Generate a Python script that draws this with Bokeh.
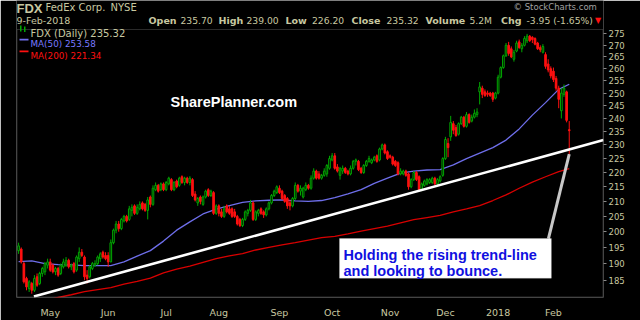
from bokeh.plotting import figure
from bokeh.models import Range1d, FixedTicker, Label, BoxAnnotation, ColumnDataSource
from bokeh.embed import file_html
from bokeh.resources import INLINE

# ---------------- data ----------------
opens = [194, 194.5, 190, 185.5, 182.5, 184, 182, 186, 184, 187,
         187.5, 189.5, 190.5, 189.5, 187.5, 188.5, 187, 189, 189.5, 191,
         189, 190, 188, 191.5, 193.5, 192, 186.5, 186, 188.5, 189.5,
         190, 191.5, 193.5, 192.5, 192.5, 190.5, 196.5, 200.5, 202.5, 201,
         203.5, 205, 204, 207, 208.5, 206, 207.5, 209.5, 209, 207,
         211.5, 209, 214, 215.5, 214, 216, 214, 216, 217.5, 214,
         217, 215.5, 218.5, 216.5, 218, 216.5, 217.5, 212.5, 209.5, 211.5,
         209, 211.5, 214, 212, 213, 206, 208.5, 206.5, 205, 208.5,
         207.5, 207.5, 206.5, 205, 204, 202, 204, 206, 207, 209.5,
         204, 206, 207.5, 206.5, 205.5, 207.5, 209.5, 212, 213, 214.5,
         213.5, 212, 211, 209.5, 208.5, 211, 215.5, 213.5, 211.5, 214,
         215.5, 214.5, 218, 220.5, 219.5, 218, 219, 219.5, 221.5, 224.5,
         226, 222, 219, 220.5, 221.5, 220.5, 219.5, 221.5, 224, 224,
         221.5, 220, 222.5, 224, 223.5, 224.5, 226, 224.5, 228.5, 230,
         227.5, 226, 225.5, 224, 223.5, 219.5, 219.5, 220.5, 219.5, 215,
         217.5, 220, 218.5, 214, 215.5, 216, 216.5, 216.5, 218, 216,
         217, 219, 225, 230.5, 233, 238, 236.5, 234, 238, 240.5,
         237, 241.5, 239, 240.5, 241.5, 250.5, 252, 250.5, 250, 250,
         250, 248, 250, 256.5, 260.5, 265.5, 270, 268.5, 264, 267.5,
         271.5, 268.5, 270, 272, 274, 273.5, 273, 271, 269, 267,
         266, 262, 260, 259, 256, 252, 243, 249.5, 250.5, 235.70]
highs = [196.5, 195, 190.5, 186, 185, 184.5, 186.5, 187, 187.5, 189,
         190.5, 191.5, 191.5, 190, 189, 189, 190, 191.5, 192, 191.5,
         190, 190.5, 192.5, 195, 194.5, 192.5, 188, 189.5, 190.5, 191,
         192.5, 193.5, 194, 193.5, 193.5, 197.5, 201, 203.5, 203.5, 204.5,
         205.5, 205.5, 208.5, 209, 209, 209, 210, 210, 209.5, 211.5,
         212, 215.5, 216.5, 216, 216.5, 216.5, 217, 218.5, 218, 217,
         217.5, 218.5, 219, 218.5, 218.5, 218.7, 218, 213.5, 211.5, 212,
         212, 214, 214.5, 214, 213.5, 209, 209, 207.5, 208.5, 209,
         208.5, 208, 207.5, 205.5, 204.5, 204.5, 207, 207.5, 210.5, 210,
         207, 207.5, 208, 207, 208, 210, 212.5, 214, 215.5, 215.5,
         214, 212.5, 211.5, 210.5, 211.5, 216.5, 216, 215.5, 215, 216.5,
         216, 219, 221.5, 221, 220.5, 219.5, 221.5, 223, 226, 227,
         227, 223, 222, 222.5, 222, 221, 222.5, 224.5, 225, 224.5,
         222, 223, 224.5, 226, 225, 226, 226.5, 229, 230.5, 230.5,
         228, 226.5, 226, 224.5, 224, 221.5, 221, 221, 220, 218,
         220.5, 220.5, 219, 216.5, 217.5, 218, 218, 218.5, 218.5, 218,
         219, 225.5, 233, 232.5, 241, 239, 237.5, 238.5, 241, 241,
         242.5, 242, 241.5, 243.5, 244, 254.5, 253, 251.5, 251, 250.5,
         250.5, 250.5, 257.5, 261, 266, 271, 271.5, 269.5, 268, 272,
         272.5, 271, 274, 275, 274.5, 274, 273.5, 271.5, 270, 270.5,
         267, 264, 261, 260.5, 257, 253, 252, 253.5, 251, 239.00]
lows = [193, 190, 184, 182, 181.5, 181, 181.5, 183, 183.5, 186,
        186.5, 188.5, 187.5, 187, 186.5, 186, 186.5, 188.5, 189, 188.5,
        188, 187, 187.5, 190.5, 192, 185, 184, 185.5, 188, 189,
        189.5, 190.5, 191.5, 191, 189, 190.5, 196, 199.5, 200, 200.5,
        203, 203, 203.5, 205, 205.5, 205.5, 207, 207, 206.5, 204,
        208, 208.5, 213.5, 213, 213.5, 213.5, 213.5, 215.5, 213.5, 213.5,
        214.5, 215, 216, 215.5, 216, 215.5, 211.5, 210, 208.5, 209,
        208.5, 211, 211.5, 211.5, 205.5, 205.5, 205, 204.5, 204.5, 206,
        205.5, 204.5, 204.5, 202, 201.5, 201.5, 203.5, 205, 206.5, 203.5,
        203.5, 205, 205.5, 204.5, 205, 207, 209, 211.5, 212.5, 212.5,
        210.5, 209.5, 207.5, 207, 208, 210.5, 213, 212, 211, 213.5,
        214, 214, 217.5, 217.5, 217.5, 217.5, 218.5, 218.5, 221, 224,
        221, 220, 217.5, 219.5, 219.5, 219, 219, 221, 222.5, 220.5,
        219.5, 219.5, 222, 223.5, 223, 224, 223.5, 224, 228, 226.5,
        224.5, 225, 222.5, 222, 219, 219, 219, 218.5, 214, 214.5,
        217, 217, 213.5, 213.5, 215, 215.5, 216, 216, 215.5, 215.5,
        216.5, 218.5, 224.5, 225.5, 231.5, 234, 233, 233.5, 237.5, 236.5,
        236.5, 238, 238.5, 240, 240.5, 245.5, 248, 248.5, 248.5, 248.5,
        246.5, 247.5, 249.5, 256, 260, 265, 265.5, 264.5, 263, 267,
        268.5, 267, 269.5, 271, 271.5, 271, 270, 268, 267, 266.5,
        260, 258.5, 256, 254.5, 251, 244, 240, 248.5, 238.5, 226.20]
closes = [195.5, 190.5, 184.5, 183, 184.5, 182, 185.5, 183.5, 187, 188.5,
          190, 190.5, 188, 187.5, 188.5, 186.5, 189.5, 190.5, 191, 189,
          189.5, 187.5, 192, 193.5, 192.5, 186, 185.5, 189, 190, 190,
          192, 193, 192, 191.5, 190.5, 196.5, 200.5, 202.5, 201, 204,
          205, 203.5, 207.5, 208, 206, 208, 209, 207.5, 207, 210.5,
          209, 214.5, 215.5, 213.5, 216, 214, 216.5, 218, 214, 216.5,
          215, 218, 216.5, 218, 216.5, 218, 212, 210.5, 211, 210,
          211.5, 213.5, 212, 213.5, 206, 208.5, 206, 205, 207.5, 206.5,
          206, 205, 205, 202.5, 202, 204, 206.5, 207, 209.5, 204,
          206.5, 207, 206, 205.5, 207.5, 209.5, 212, 213.5, 215, 213,
          211, 210, 208.5, 208.5, 211, 215.5, 213.5, 214.5, 214.5, 215.5,
          214.5, 218, 220.5, 218, 218, 219, 220.5, 222.5, 225, 226,
          221.5, 220.5, 221.5, 221.5, 220, 219.5, 221.5, 224, 224.5, 221,
          220, 222.5, 224, 225, 224.5, 225.5, 224, 228.5, 230, 227,
          225, 225.5, 223, 222.5, 219.5, 220.5, 220.5, 219, 215, 217.5,
          220, 217.5, 214, 216, 217, 217.5, 217.5, 218, 216, 217.5,
          218.5, 225, 232, 229, 238.5, 235.5, 233.5, 238, 240.5, 237,
          241.5, 238.5, 240.5, 242, 242.5, 252.5, 249.5, 249, 249.5, 249,
          247.5, 250, 256.5, 260.5, 265.5, 270, 266.5, 265, 267, 271,
          269, 270, 273, 274, 272, 272.5, 270.5, 268.5, 268, 269.5,
          261, 259.5, 257, 255.5, 252, 247.5, 250, 252, 239.27, 235.32]
day_index = list(range(len(closes)))

ma_days = [0, 5, 10, 15, 20, 25, 30, 35, 40, 45, 50, 55, 60, 65, 70, 75, 80,
           85, 90, 95, 100, 105, 110, 115, 120, 125, 130, 135, 140, 145, 150,
           155, 160, 165, 170, 175, 180, 185, 190, 195, 200, 205, 209]
ma50 = [190.6, 190.8, 190.0, 189.7, 189.6, 189.4, 189.4, 189.4, 190.5, 192.3,
        194.0, 197.0, 200.5, 203.2, 205.8, 207.4, 208.6, 209.7, 210.2, 210.4,
        210.5, 210.2, 210.0, 210.3, 211.3, 212.6, 214.0, 216.2, 218.0, 219.8,
        220.5, 220.9, 221.0, 222.7, 225.0, 227.0, 229.0, 231.8, 236.0, 241.3,
        246.2, 251.5, 253.58]
ma200_days = [10, 15, 20, 25, 30, 35, 40, 45, 50, 55, 60, 65, 70, 75, 80, 85,
              90, 95, 100, 105, 110, 115, 120, 125, 130, 135, 140, 145, 150,
              155, 160, 165, 170, 175, 180, 185, 190, 195, 200, 205, 209]
ma200 = [179.0, 179.9, 180.7, 181.6, 182.2, 182.8, 183.8, 184.6, 185.6, 187.2,
         188.3, 189.2, 190.4, 191.5, 192.4, 193.1, 194.2, 195.0, 195.8, 196.5,
         197.3, 198.1, 198.5, 199.3, 200.2, 201.0, 201.8, 202.9, 203.9, 204.6,
         205.3, 206.5, 207.5, 208.6, 210.3, 212.2, 214.5, 216.6, 218.5, 220.3,
         221.34]

month_tick_days = [12, 34, 56, 76, 99, 119, 141, 162, 182, 203]
month_labels = ["May", "Jun", "Jul", "Aug", "Sep", "Oct", "Nov", "Dec", "2018", "Feb"]
price_ticks = [185, 190, 195, 200, 205, 210, 215, 220, 225, 230, 235, 240,
               245, 250, 255, 260, 265, 270, 275]

trend_days = [5.8, 222.0]
trend_prices = [180.2, 231.8]
pointer_days = [201.1, 209.0]
pointer_prices = [197.8, 226.6]

# ---------------- styling ----------------
KHAKI = "#c8c8a0"
GREEN = "#00a800"
RED = "#ff1010"
BLUE_MA = "#6e6eea"
RED_MA = "#d80000"
FRAME = "#8a8a8a"

W, H = 640, 320
FL, FR, FB = 16, 603, 303      # drawing area edges (page pixels); header lives inside it

# price chart window is y 29..303; the frame is extended up to y=0 for the header
X0, X1 = -0.8, 222.0
P_BOTTOM, P_TOP, P_CANVAS_TOP = 179.9, 277.2, 290.2

p = figure(width=W, height=H, output_backend="svg", toolbar_location=None,
           y_axis_type="log", y_axis_location="right",
           x_range=Range1d(X0, X1), y_range=Range1d(P_BOTTOM, P_CANVAS_TOP),
           min_border_left=FL, min_border_right=W - FR,
           min_border_top=0, min_border_bottom=H - FB)
p.background_fill_color = "black"
p.border_fill_color = "black"
p.outline_line_color = None
p.grid.visible = False

p.xaxis.ticker = FixedTicker(ticks=month_tick_days)
p.xaxis.major_label_overrides = {d: lab for d, lab in zip(month_tick_days, month_labels)}
p.xaxis.major_tick_line_color = None
p.xaxis.minor_tick_line_color = None
p.xaxis.major_label_standoff = 3
p.xaxis.major_label_text_font = "DejaVu Sans"
p.xaxis.major_label_text_font_size = "9.5px"
p.xaxis.major_label_text_color = KHAKI
p.xaxis.axis_line_color = None

p.yaxis.ticker = FixedTicker(ticks=price_ticks)
p.yaxis.major_label_overrides = {t: str(t) for t in price_ticks}
p.yaxis.major_tick_out = 3
p.yaxis.major_tick_in = 0
p.yaxis.major_tick_line_color = FRAME
p.yaxis.minor_tick_line_color = None
p.yaxis.major_label_standoff = 2
p.yaxis.major_label_text_font = "DejaVu Sans"
p.yaxis.major_label_text_font_size = "8.5px"
p.yaxis.major_label_text_color = KHAKI
p.yaxis.axis_line_color = None

# chart border (price window only)
p.add_layout(BoxAnnotation(left=-0.61, right=221.8, bottom=180.05, top=276.96,
                           fill_alpha=0, line_color=FRAME, line_width=1))

# moving averages
p.line(ma200_days, ma200, line_color=RED_MA, line_width=1.3)
p.line(ma_days, ma50, line_color=BLUE_MA, line_width=1.3)

# candles
src = ColumnDataSource(dict(
    x=day_index, o=opens, h=highs, l=lows, c=closes,
    top=[max(o, c) for o, c in zip(opens, closes)],
    bot=[min(o, c) for o, c in zip(opens, closes)],
    col=[GREEN if c >= o else RED for o, c in zip(opens, closes)],
    fill=["black" if c >= o else RED for o, c in zip(opens, closes)],
))
p.segment(x0="x", y0="l", x1="x", y1="h", source=src, line_color="col", line_width=1)
p.vbar(x="x", width=0.62, top="top", bottom="bot", source=src,
       fill_color="fill", line_color="col", line_width=1)

# trend line & pointer
p.line(trend_days, trend_prices, line_color="white", line_width=2.6)
p.line(pointer_days, pointer_prices, line_color="#c8c8c8", line_width=3)


def sx(cx):
    return cx - FL


def sy(cy):
    return FB - cy


def label(cx, cy, text, size, color, bold=False, font="DejaVu Sans"):
    p.add_layout(Label(x=sx(cx), y=sy(cy), x_units="screen", y_units="screen",
                       text=text, text_font=font, text_font_size=f"{size}px",
                       text_color=color, text_font_style="bold" if bold else "normal",
                       text_baseline="alphabetic", text_align="left"))


def box(x0, y0, x1, y1, color):
    p.add_layout(BoxAnnotation(left=sx(x0), right=sx(x1), top=sy(y0), bottom=sy(y1),
                               left_units="screen", right_units="screen",
                               top_units="screen", bottom_units="screen",
                               fill_color=color, fill_alpha=1, line_color=None))


# callout box
p.add_layout(BoxAnnotation(left=121.8, right=202.2, bottom=185.6, top=197.8,
                           fill_color="white", fill_alpha=1, line_color="#d0d0d0",
                           line_width=1))
label(343, 260.5, "Holding the rising trend-line", 14.5, "#1010e0", True, "Liberation Sans")
label(343, 276.5, "and looking to bounce.", 14.5, "#1010e0", True, "Liberation Sans")

# watermark
label(170, 107.5, "SharePlanner.com", 14.5, "white", True, "Liberation Sans")

# legend
box(19.5, 31, 21, 37, GREEN)
box(23.5, 32, 25, 37.5, GREEN)
box(19, 44.3, 28, 46, BLUE_MA)
box(19, 56, 28, 57.7, RED)
label(30, 38.5, "FDX (Daily) 235.32", 10, KHAKI)
label(30, 49, "MA(50) 253.58", 8.8, "#7878ff")
label(30, 61, "MA(200) 221.34", 8.8, RED)

# header
label(16, 13.5, "FDX", 13, KHAKI, True, "Liberation Sans")
label(45, 13, "FedEx Corp.", 10, KHAKI)
label(110, 13, "NYSE", 10, KHAKI)
label(513, 12.5, "\u00a9 StockCharts.com", 8.5, "#a0a0a0")
label(16, 26, "9-Feb-2018", 9.5, KHAKI)
stats = [(148, "Open", True), (180, "235.70", False), (218, "High", True),
         (246, "239.00", False), (285, "Low", True), (311.5, "226.20", False),
         (351, "Close", True), (386, "235.32", False), (425, "Volume", True),
         (469, "5.2M", False), (500.5, "Chg", True), (526, "-3.95 (-1.65%)", False)]
for cx, txt, bold in stats:
    label(cx, 26, txt, 9.5 if bold else 9.2, KHAKI, bold)
label(594.5, 26, "\u25bc", 8, RED)

open("out.html", "w").write(file_html(p, INLINE))
